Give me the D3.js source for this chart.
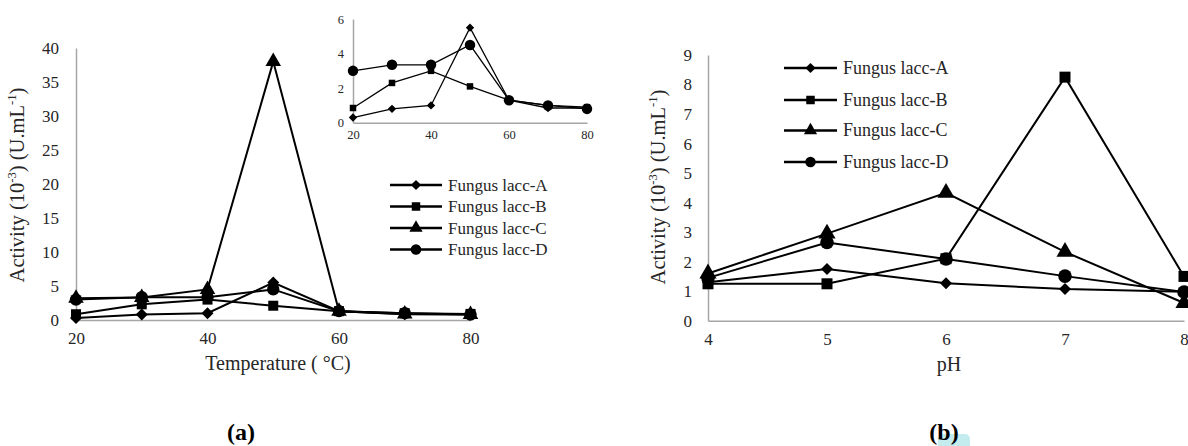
<!DOCTYPE html>
<html>
<head>
<meta charset="utf-8">
<script src="https://cdn.jsdelivr.net/npm/d3@7"></script>
<style>
  html, body { margin: 0; padding: 0; background: #fff; }
  svg { display: block; }
  svg text { font-family: "Liberation Serif", "Times New Roman", serif; fill: #262626; }
  .axis .domain { stroke: #a6a6a6; stroke-width: 1.5; }
  .series { fill: none; stroke: #000; }
</style>
</head>
<body>
<svg id="chart" width="1188" height="446"></svg>
<script>
// (a) Temperature
const TEMPS  = [20, 30, 40, 50, 60, 70, 80];
const TEMP_A = [0.3, 0.8, 1.0, 5.5, 1.3, 0.85, 0.85];
const TEMP_B = [0.85, 2.3, 3.0, 2.1, 1.3, 1.0, 0.9];
const TEMP_C = [3.2, 3.3, 4.5, 38, 1.3, 0.9, 0.8];
const TEMP_D = [3.0, 3.35, 3.35, 4.5, 1.3, 1.0, 0.8];
const TEMP_Y_TICKS = [0, 5, 10, 15, 20, 25, 30, 35, 40];
const TEMP_X_TICKS = [20, 40, 60, 80];
const INSET_Y_TICKS = [0, 2, 4, 6];

// (b) pH
const PH   = [4, 5, 6, 7, 8];
const PH_A = [1.3, 1.75, 1.27, 1.07, 0.98];
const PH_B = [1.25, 1.25, 2.1, 8.25, 1.5];
const PH_C = [1.6, 2.95, 4.33, 2.33, 0.6];
const PH_D = [1.45, 2.65, 2.09, 1.51, 0.97];
const PH_Y_TICKS = [0, 1, 2, 3, 4, 5, 6, 7, 8, 9];

const NAMES = ["Fungus lacc-A", "Fungus lacc-B", "Fungus lacc-C", "Fungus lacc-D"];
const SHAPES = ["diamond", "square", "triangle", "circle"];

const svg = d3.select("#chart");

function marker(shape, k) {
  // k = echelle relative
  if (shape === "diamond") return { d: d3.symbol(d3.symbolSquare, 72 * k * k)(), rot: 45 };
  if (shape === "square")  return { d: d3.symbol(d3.symbolSquare, 100 * k * k)(), rot: 0 };
  if (shape === "triangle") return { d: d3.symbol(d3.symbolTriangle, 105 * k * k)(), rot: 0 };
  return { d: d3.symbol(d3.symbolCircle, 120 * k * k)(), rot: 0 };
}

function drawSeries(g, xs, ys, x, y, shape, lw, k) {
  const pts = xs.map((v, i) => [x(v), y(ys[i])]);
  g.append("path")
    .attr("class", "series")
    .attr("stroke-width", lw)
    .attr("d", d3.line()(pts));
  const m = marker(shape, k);
  g.selectAll(null)
    .data(pts)
    .join("path")
      .attr("d", m.d)
      .attr("fill", "#000")
      .attr("transform", p => `translate(${p[0]},${p[1]}) rotate(${m.rot})`);
}

function drawAxes(x, y, xTicks, yTicks, fs, xPad, yPad) {
  const fmt = d3.format("d");
  const gx = svg.append("g")
    .attr("class", "axis")
    .attr("transform", `translate(0,${y.range()[0]})`)
    .call(d3.axisBottom(x).tickValues(xTicks).tickFormat(fmt).tickSize(0).tickPadding(xPad));
  gx.selectAll("text").style("font-size", fs + "px");
  const gy = svg.append("g")
    .attr("class", "axis")
    .attr("transform", `translate(${x.range()[0]},0)`)
    .call(d3.axisLeft(y).tickValues(yTicks).tickFormat(fmt).tickSize(0).tickPadding(yPad));
  gy.selectAll("text").style("font-size", fs + "px");
}

function drawLegend(x0, x1, tx, rows, fs) {
  const g = svg.append("g");
  NAMES.forEach((name, i) => {
    const yy = rows[i];
    g.append("line")
      .attr("x1", x0).attr("x2", x1).attr("y1", yy).attr("y2", yy)
      .attr("stroke", "#000").attr("stroke-width", 2.5);
    const m = marker(SHAPES[i], 0.85);
    g.append("path")
      .attr("d", m.d)
      .attr("fill", "#000")
      .attr("transform", `translate(${(x0 + x1) / 2},${yy}) rotate(${m.rot})`);
    g.append("text")
      .attr("x", tx).attr("y", yy).attr("dy", "0.33em")
      .style("font-size", fs + "px")
      .text(name);
  });
}

function yTitle(cx, cy, fs) {
  const t = svg.append("text")
    .attr("transform", `translate(${cx},${cy}) rotate(-90)`)
    .attr("text-anchor", "middle")
    .style("font-size", fs + "px");
  t.append("tspan").text("Activity (10");
  t.append("tspan").style("font-size", fs * 0.62 + "px").attr("dy", -fs * 0.38).text("-3");
  t.append("tspan").attr("dy", fs * 0.38).text(") (U.mL");
  t.append("tspan").style("font-size", fs * 0.62 + "px").attr("dy", -fs * 0.38).text("-1");
  t.append("tspan").attr("dy", fs * 0.38).text(")");
}

// ---- (a) principal ----
const xT = d3.scaleLinear().domain([20, 80]).range([76, 470.5]);
const yT = d3.scaleLinear().domain([0, 40]).range([320, 48]);
drawAxes(xT, yT, TEMP_X_TICKS, TEMP_Y_TICKS, 17, 12, 17);

const gA = svg.append("g");
drawSeries(gA, TEMPS, TEMP_A, xT, yT, "diamond", 2, 1);
drawSeries(gA, TEMPS, TEMP_B, xT, yT, "square", 2, 1);
drawSeries(gA, TEMPS, TEMP_C, xT, yT, "triangle", 2, 1);
drawSeries(gA, TEMPS, TEMP_D, xT, yT, "circle", 2, 1);

// encart (sans lacc-C)
const xI = d3.scaleLinear().domain([20, 80]).range([353, 587]);
const yI = d3.scaleLinear().domain([0, 6]).range([122.7, 19]);
drawAxes(xI, yI, TEMP_X_TICKS, INSET_Y_TICKS, 12.5, 7, 9);
const gI = svg.append("g");
drawSeries(gI, TEMPS, TEMP_A, xI, yI, "diamond", 1.3, 0.7);
drawSeries(gI, TEMPS, TEMP_B, xI, yI, "square", 1.3, 0.65);
drawSeries(gI, TEMPS, TEMP_D, xI, yI, "circle", 1.3, 0.85);

drawLegend(390, 442, 448, [185, 206.5, 228, 249.5], 17);
yTitle(24, 185, 20.5);
svg.append("text")
  .attr("x", 278).attr("y", 370)
  .attr("text-anchor", "middle").style("font-size", "20px")
  .text("Temperature ( °C)");
svg.append("text")
  .attr("x", 241).attr("y", 440)
  .attr("text-anchor", "middle").style("font-size", "24px").style("font-weight", "bold")
  .style("fill", "#000")
  .text("(a)");

// ---- (b) pH ----
const xP = d3.scaleLinear().domain([4, 8]).range([708, 1184]);
const yP = d3.scaleLinear().domain([0, 9]).range([320.7, 55]);
drawAxes(xP, yP, PH, PH_Y_TICKS, 17, 12, 16);
const gB = svg.append("g");
drawSeries(gB, PH, PH_A, xP, yP, "diamond", 2, 1);
drawSeries(gB, PH, PH_B, xP, yP, "square", 2, 1.1);
drawSeries(gB, PH, PH_C, xP, yP, "triangle", 2, 1.1);
drawSeries(gB, PH, PH_D, xP, yP, "circle", 2, 1.1);

drawLegend(784, 837, 843, [68, 100, 130.5, 162], 18);
yTitle(665, 187, 20.5);
svg.append("text")
  .attr("x", 949).attr("y", 371)
  .attr("text-anchor", "middle").style("font-size", "20px")
  .text("pH");

// tache cyan (filigrane)
svg.append("rect")
  .attr("x", 938).attr("y", 434).attr("width", 32).attr("height", 18)
  .attr("rx", 5).attr("fill", "#c4ecef");
svg.append("text")
  .attr("x", 944).attr("y", 440)
  .attr("text-anchor", "middle").style("font-size", "24px").style("font-weight", "bold")
  .style("fill", "#000")
  .text("(b)");
</script>
</body>
</html>
